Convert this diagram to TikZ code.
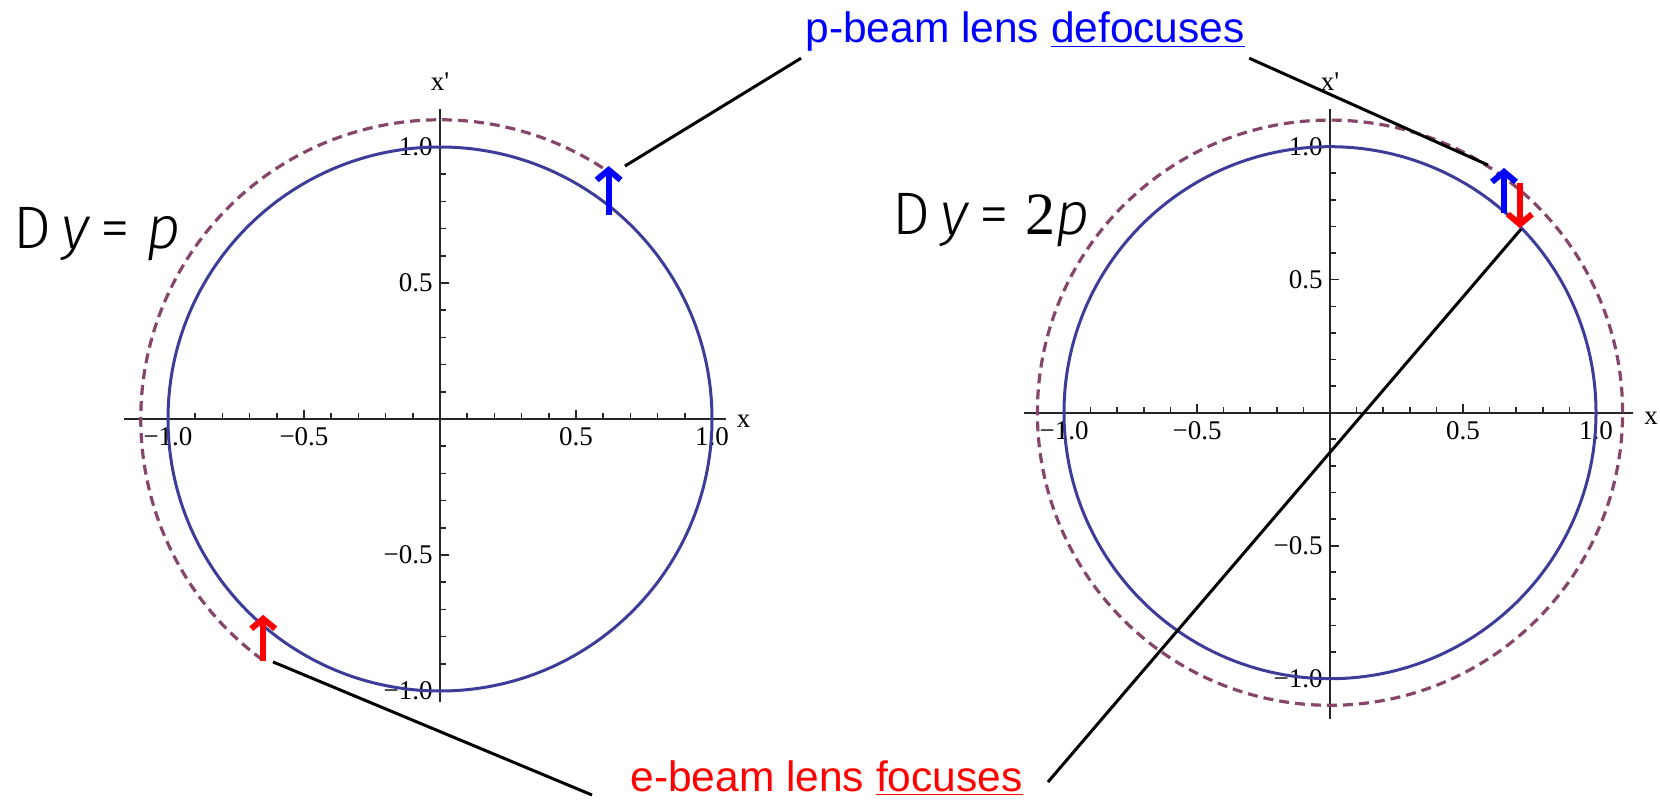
\documentclass[tikz,border=0pt]{standalone}
\usepackage{fontspec}
\setmainfont{Liberation Sans}
\newfontfamily\plotfont{Liberation Serif}
\newfontfamily\lightfont{Fira Sans}[UprightFont={* Light}, ItalicFont={* Light Italic}]
\usetikzlibrary{arrows.meta}
\definecolor{orbitblue}{RGB}{61,61,153}
\definecolor{orbitmauve}{RGB}{133,70,105}

\begin{document}
\begin{tikzpicture}[x=0.5pt, y=0.5pt, line join=round,
                    axis/.style={line width=1pt, black!85},
                    tick/.style={line width=0.8pt, black!85},
                    ticklab/.style={font=\plotfont\fontsize{13.5}{15}\selectfont, inner sep=0pt},
                    orbit/.style={line width=1.5pt, orbitblue},
                    shifted/.style={line width=1.6pt, orbitmauve, dash pattern=on 5pt off 3pt},
                    kick/.style={line width=3pt, -{Straight Barb[length=5pt,width=12pt]}},
                    leader/.style={line width=1.5pt, black},
                    lenslab/.style={font=\fontsize{21.25}{24}\selectfont, inner sep=0pt},
                    phase/.style={font=\lightfont\fontsize{30}{34}\selectfont, inner sep=0pt}]

  \useasboundingbox (0,0) rectangle (1660,799);

  %--- left plot: half turn ---
  \begin{scope}[shift={(440,380)}, x=136pt, y=136pt]
    \draw[axis] (-1.16,0) -- (1.05,0);
    \draw[axis] (0,-1.04) -- (0,1.14);
    \foreach \i in {1,...,10} {
      \draw[tick] (\i/10,0) -- ++(0,3pt);
      \draw[tick] (-\i/10,0) -- ++(0,3pt);
      \draw[tick] (0,\i/10) -- ++(3pt,0);
      \draw[tick] (0,-\i/10) -- ++(3pt,0);
    }
    \foreach \t in {-1,-0.5,0.5,1} {
      \draw[tick] (\t,0) -- ++(0,4.5pt);
      \draw[tick] (0,\t) -- ++(4.5pt,0);
    }
    \node[ticklab, below=4pt] at (-1,0) {−1.0};
    \node[ticklab, below=4pt] at (-0.5,0) {−0.5};
    \node[ticklab, below=4pt] at (0.5,0) {0.5};
    \node[ticklab, below=4pt] at (1,0) {1.0};
    \node[ticklab, left=3.5pt] at (0,1) {1.0};
    \node[ticklab, left=3.5pt] at (0,0.5) {0.5};
    \node[ticklab, left=3.5pt] at (0,-0.5) {−0.5};
    \node[ticklab, left=3.5pt] at (0,-1) {−1.0};
    \node[ticklab] at (0,1.24) {x'};
    \node[ticklab, anchor=west] at (1.09,-0.01) {x};

    \draw[shifted] (54:1.1) arc[start angle=54, end angle=234, radius=1.1];
    \draw[orbit] (0,0) circle[radius=1];
    \draw[kick, blue] (0.62,0.75) -- (0.62,0.93);
    \draw[kick, red] (-0.65,-0.89) -- (-0.65,-0.72);
    \coordinate (pL) at (0.68,0.93);
    \coordinate (eL) at (-0.614,-0.893);
  \end{scope}

  %--- right plot: full turn ---
  \begin{scope}[shift={(1330,386.3)}, x=133pt, y=133pt]
    \draw[axis] (-1.15,0) -- (1.14,0);
    \draw[axis] (0,-1.15) -- (0,1.14);
    \foreach \i in {1,...,10} {
      \draw[tick] (\i/10,0) -- ++(0,3pt);
      \draw[tick] (-\i/10,0) -- ++(0,3pt);
      \draw[tick] (0,\i/10) -- ++(3pt,0);
      \draw[tick] (0,-\i/10) -- ++(3pt,0);
    }
    \foreach \t in {-1,-0.5,0.5,1} {
      \draw[tick] (\t,0) -- ++(0,4.5pt);
      \draw[tick] (0,\t) -- ++(4.5pt,0);
    }
    \node[ticklab, below=4pt] at (-1,0) {−1.0};
    \node[ticklab, below=4pt] at (-0.5,0) {−0.5};
    \node[ticklab, below=4pt] at (0.5,0) {0.5};
    \node[ticklab, below=4pt] at (1,0) {1.0};
    \node[ticklab, left=3.5pt] at (0,1) {1.0};
    \node[ticklab, left=3.5pt] at (0,0.5) {0.5};
    \node[ticklab, left=3.5pt] at (0,-0.5) {−0.5};
    \node[ticklab, left=3.5pt] at (0,-1) {−1.0};
    \node[ticklab] at (0,1.243) {x'};
    \node[ticklab, anchor=west] at (1.18,-0.02) {x};

    \draw[shifted] (0,0) circle[radius=1.1];
    \draw[orbit] (0,0) circle[radius=1];
    \draw[kick, blue] (0.654,0.75) -- (0.654,0.92);
    \draw[kick, red] (0.714,0.864) -- (0.714,0.694);
    \coordinate (pR) at (0.594,0.931);
    \coordinate (eR) at (0.718,0.69);
  \end{scope}

  %--- phase advance ---
  \node[phase, anchor=base west] (dpsiL) at (13,550) {D\,\textit{y}\,=\;\textit{p}};
  \node[phase, anchor=base west] (dpsiR) at (892,564) {D\,\textit{y}\,=\;{\plotfont 2}\textit{p}};

  %--- lens labels and leaders ---
  \node[lenslab, blue, anchor=base west] (pbeam) at (805,756) {p-beam lens \underline{defocuses}};
  \node[lenslab, red, anchor=base west] (ebeam) at (630,8) {e-beam lens \underline{focuses}};

  \draw[leader] ([shift={(-2pt,-3pt)}]pbeam.south west) -- (pL);
  \draw[leader] ([shift={(2pt,-3pt)}]pbeam.south east) -- (pR);
  \draw[leader] ([shift={(-19pt,-2pt)}]ebeam.base west) -- (eL);
  \draw[leader] ([shift={(12.5pt,4.5pt)}]ebeam.base east) -- (eR);

\end{tikzpicture}
\end{document}
